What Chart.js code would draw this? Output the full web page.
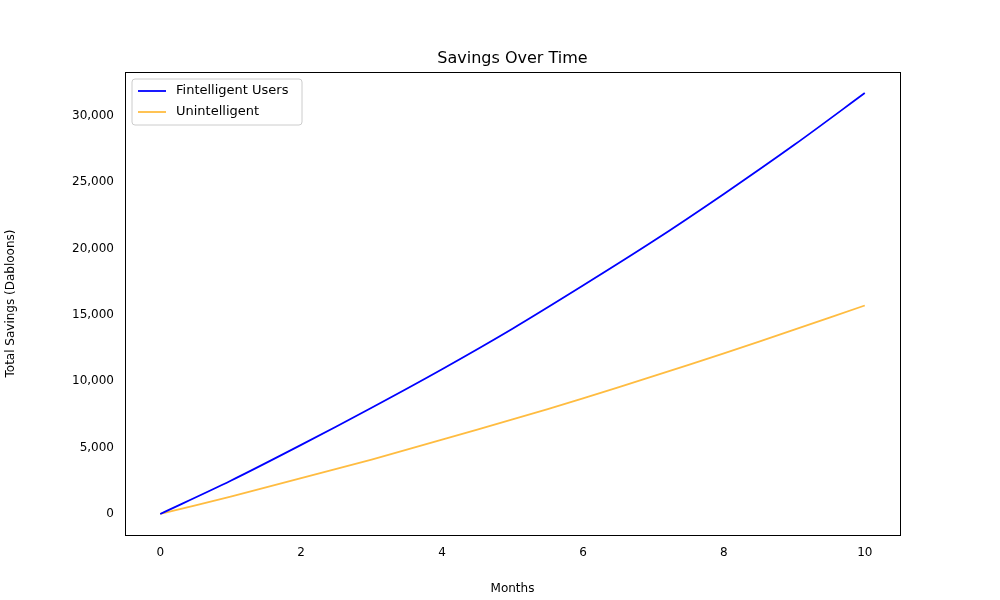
<!DOCTYPE html>
<html>
<head>
<meta charset="UTF-8" />
<script src="https://cdn.jsdelivr.net/npm/chart.js"></script>
<style>
  body { margin: 0; background: #fff; }
  #wrap { width: 1000px; height: 600px; }
</style>
</head>
<body>
<div id="wrap"><canvas id="c" width="1000" height="600"></canvas></div>
<script>
const months = [0, 1, 2, 3, 4, 5, 6, 7, 8, 9, 10];
const fintelligent = [0, 2500, 5200, 8000, 10900, 13950, 17200, 20550, 24100, 27800, 31700];
const unintelligent = [0, 1300, 2700, 4100, 5600, 7120, 8700, 10380, 12100, 13880, 15700];
const seriesNames = ['Fintelligent Users', 'Unintelligent'];
const seriesColors = ['#0000ff', 'rgba(255,165,0,0.75)'];

const font = { family: 'DejaVu Sans', size: 12 };

const overlay = {
  id: 'overlay',
  afterDraw(chart) {
    const ctx = chart.ctx, a = chart.chartArea;
    ctx.save();
    ctx.strokeStyle = '#000'; ctx.lineWidth = 1;
    ctx.strokeRect(a.left + 0.5, a.top + 0.5, a.right - a.left, a.bottom - a.top);
    ctx.fillStyle = '#000';
    ctx.font = '16px DejaVu Sans';
    ctx.textAlign = 'center'; ctx.textBaseline = 'bottom';
    ctx.fillText('Savings Over Time', (a.left + a.right) / 2, a.top - 5);
    // legend
    const x = a.left + 7, y = a.top + 7;
    ctx.font = '13px DejaVu Sans';
    ctx.strokeStyle = '#ccc';
    ctx.fillStyle = 'rgba(255,255,255,0.8)';
    ctx.beginPath(); ctx.roundRect(x, y, 170, 46, 3); ctx.fill(); ctx.stroke();
    seriesNames.forEach((n, i) => {
      const ly = y + 12 + i * 21;
      ctx.strokeStyle = seriesColors[i]; ctx.lineWidth = 1.8;
      ctx.beginPath(); ctx.moveTo(x + 6, ly); ctx.lineTo(x + 34, ly); ctx.stroke();
      ctx.fillStyle = '#000'; ctx.textAlign = 'left'; ctx.textBaseline = 'middle';
      ctx.fillText(n, x + 44, ly);
    });
    ctx.restore();
  }
};

new Chart(document.getElementById('c'), {
  type: 'line',
  data: {
    datasets: [
      { label: seriesNames[0], data: months.map((m, i) => ({ x: m, y: fintelligent[i] })),
        borderColor: seriesColors[0], borderWidth: 1.8, pointRadius: 0, tension: 0.3 },
      { label: seriesNames[1], data: months.map((m, i) => ({ x: m, y: unintelligent[i] })),
        borderColor: seriesColors[1], borderWidth: 1.8, pointRadius: 0, tension: 0.3 }
    ]
  },
  options: {
    responsive: false,
    animation: false,
    layout: { padding: { top: 72, right: 100, left: 0, bottom: 0 } },
    plugins: { legend: { display: false }, title: { display: false }, tooltip: { enabled: false } },
    scales: {
      x: {
        type: 'linear', min: -0.5, max: 10.5,
        afterBuildTicks: ax => { ax.ticks = [0, 2, 4, 6, 8, 10].map(v => ({ value: v })); },
        grid: { display: false, drawTicks: true },
        border: { display: false },
        ticks: { color: '#000', font, maxRotation: 0 },
        title: { display: true, text: 'Months', color: '#000', font, padding: { top: 2 } },
        afterFit: ax => { ax.height = 65; }
      },
      y: {
        min: -1585, max: 33285,
        afterBuildTicks: ax => { ax.ticks = [0, 5000, 10000, 15000, 20000, 25000, 30000].map(v => ({ value: v })); },
        grid: { display: false },
        border: { display: false },
        ticks: { color: '#000', font },
        title: { display: true, text: 'Total Savings (Dabloons)', color: '#000', font },
        afterFit: ax => { ax.width = 125; }
      }
    }
  },
  plugins: [overlay]
});
</script>
</body>
</html>
